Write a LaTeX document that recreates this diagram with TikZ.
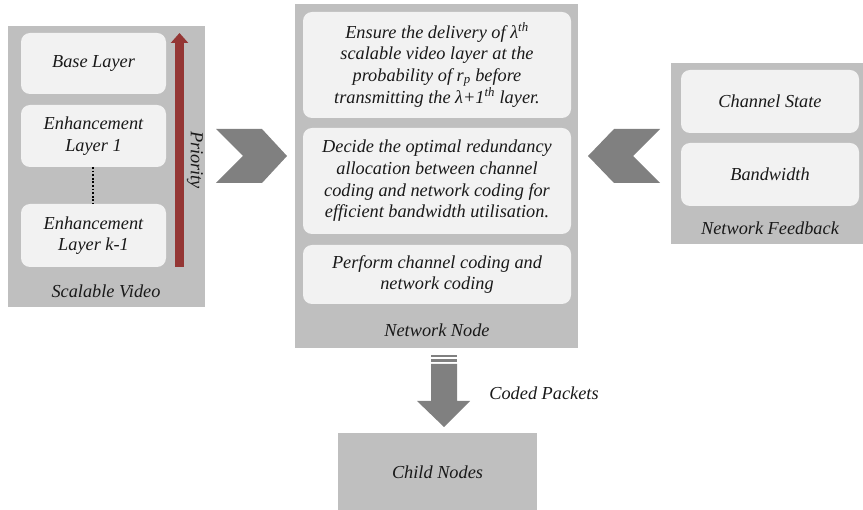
\documentclass[tikz,border=0pt]{standalone}
\usepackage{fontspec}
\setmainfont{Liberation Serif}
\usetikzlibrary{arrows.meta}
\definecolor{panelgray}{HTML}{BFBFBF}
\definecolor{boxfill}{HTML}{F2F2F2}
\definecolor{chevgray}{HTML}{808080}
\definecolor{priored}{HTML}{943634}
\tikzset{
  panel/.style={fill=panelgray, draw=none},
  inbox/.style={fill=boxfill, draw=none, rounded corners=9pt},
  txt/.style={font=\fontsize{18.3}{21.6}\selectfont\itshape, align=center, text=black!90, inner sep=0pt},
  chev/.style={fill=chevgray, draw=none},
}
\begin{document}
\begin{tikzpicture}[x=1pt,y=-1pt]
\useasboundingbox (0,0) rectangle (863,510);

% Scalable video panel
\path[panel] (8,26) rectangle (205,307);
\path[inbox] (21,33) rectangle (166,94);
\path[inbox] (21,105) rectangle (166,167);
\path[inbox] (21,204) rectangle (166,267);
\node[txt] (base) at (93.5,63.5) {Base Layer};
\node[txt] (enh1) at (93.5,136) {Enhancement\\Layer 1};
\node[txt] (enhk) at (93.5,235.5) {Enhancement\\Layer k-1};
\coordinate (d1) at (93,167);
\coordinate (d2) at (93,204);
\draw[dash pattern=on 1.8pt off 1.8pt, line width=2pt] (d1) -- (d2);
\node[txt] (sv) at (106,291) {Scalable Video};
% priority arrow
\coordinate (pbot) at (179.5,267);
\coordinate (ptop) at (179.5,33);
\draw[priored, line width=9pt, -{Triangle[length=10pt,width=17pt]}] (pbot) -- (ptop);
\node[txt, rotate=-90] (prio) at (195,160) {Priority};

% Network node panel
\path[panel] (295,4) rectangle (578,348);
\path[inbox] (303,12) rectangle (571,118);
\path[inbox] (303,128) rectangle (571,234);
\path[inbox] (303,245) rectangle (571,304);
\node[txt] (ensure) at (437,65) {Ensure the delivery of λ\textsuperscript{th}\\scalable video layer at the\\probability of r\textsubscript{p} before\\transmitting the λ+1\textsuperscript{th} layer.};
\node[txt] (decide) at (437,181) {Decide the optimal redundancy\\allocation between channel\\coding and network coding for\\efficient bandwidth utilisation.};
\node[txt] (perform) at (437,274.5) {Perform channel coding and\\network coding};
\node[txt] (nn) at (437,330) {Network Node};

% Network feedback panel
\path[panel] (671,63) rectangle (863,244);
\path[inbox] (681,70) rectangle (859,133);
\path[inbox] (681,143) rectangle (859,206);
\node[txt] (cs) at (770,101.5) {Channel State};
\node[txt] (bw) at (770,174.5) {Bandwidth};
\node[txt] (nf) at (770,228) {Network Feedback};

% chevrons between panels
\path[chev] (216,129) -- (262,129) -- (287,156) -- (262,183) -- (216,183) -- (243,156) -- cycle;
\path[chev] (660,129) -- (614,129) -- (588,156) -- (614,183) -- (660,183) -- (633,156) -- cycle;

% coded packets arrow
\path[chev] (431,355) rectangle (457,357.5);
\path[chev] (431,359.5) rectangle (457,362);
\path[chev] (431,364) -- (457,364) -- (457,401) -- (470,401) -- (444,427) -- (417,401) -- (431,401) -- cycle;
\node[txt] (cp) at (544,393) {Coded Packets};

% child nodes
\path[panel] (338,433) rectangle (537,510);
\node[txt] (child) at (437.5,472) {Child Nodes};
\end{tikzpicture}
\end{document}
